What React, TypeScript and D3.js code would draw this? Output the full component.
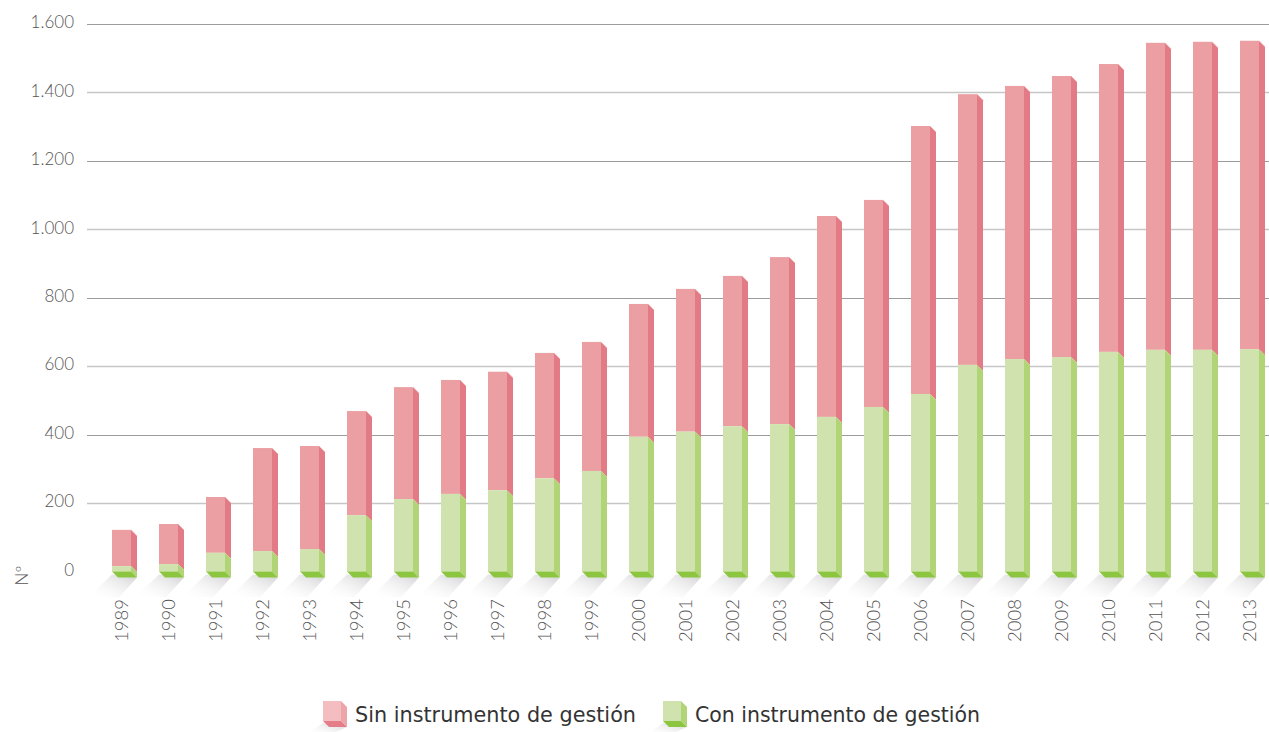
import React from "react";
import * as d3 from "d3";

const years = ["1989","1990","1991","1992","1993","1994","1995","1996","1997","1998","1999","2000","2001","2002","2003","2004","2005","2006","2007","2008","2009","2010","2011","2012","2013"];
const totals = [122,139,218,361,367,469,539,560,584,639,671,782,826,864,919,1039,1086,1302,1395,1419,1448,1483,1545,1548,1551];
const conInstrumento = [16,22,55,60,66,165,212,227,238,273,294,394,409,425,431,452,481,519,604,621,627,642,648,648,650];
const yTicks = [200,400,600,800,1000,1200,1400,1600];
const yLabels = [0,200,400,600,800,1000,1200,1400,1600];
const legendLabels = ["Sin instrumento de gestión","Con instrumento de gestión"];

const W = 1269, H = 732;
const BW = 19, D = 6;
const PINK = "#eb9fa2", PINK_SIDE = "#e37b86", PINK_EDGE = "#f3b8bb";
const GREEN = "#d0e3ae", GREEN_SIDE = "#b1d476", GREEN_BOTTOM = "#8cc540";

const fmt = (v: number) => v >= 1000 ? `${Math.floor(v / 1000)}.${String(v % 1000).padStart(3, "0")}` : String(v);

export default function App() {
  const y = d3.scaleLinear().domain([0, 1600]).range([571.6, 24]);
  const x = d3.scalePoint<string>().domain(years).range([121.5, 1249.5]);
  const base = y(0);
  const font = "Lato, 'Open Sans', sans-serif";
  return (
    <svg width={W} height={H} style={{ position: "absolute", left: 0, top: 0, background: "#fff" }}>
      <defs>
        <linearGradient id="shadow" x1="1" y1="0" x2="0" y2="1">
          <stop offset="0" stopColor="#c8c8cc" stopOpacity="0.85" />
          <stop offset="1" stopColor="#ffffff" stopOpacity="0" />
        </linearGradient>
      </defs>
      {yTicks.map((t, i) => (
        <line key={t} x1={87} x2={W} y1={Math.round(y(t)) + 0.5} y2={Math.round(y(t)) + 0.5}
          stroke={i % 2 === 1 ? "#9c9c9c" : "#c6c6c6"} strokeWidth={i % 2 === 1 ? 1 : 1.6} />
      ))}
      {yLabels.map(t => (
        <text key={t} x={74} y={y(t)} textAnchor="end" dominantBaseline="middle"
          fontFamily={font} fontWeight={300} fontSize={17} fill="#555">{fmt(t)}</text>
      ))}
      <text transform={`translate(28,${base + 4}) rotate(-90)`} textAnchor="middle"
        fontFamily={font} fontWeight={300} fontSize={17} fill="#555">Nº</text>
      {years.map((yr, i) => {
        const cx = x(yr) as number;
        const x0 = cx - BW / 2, x1 = cx + BW / 2;
        const yt = y(totals[i]);
        const yg = y(conInstrumento[i]);
        return (
          <g key={yr}>
            <polygon points={`${x0},${base + 3} ${x1 + D},${base + D} ${x1 - 12},${base + 26} ${x0 - 22},${base + 24}`} fill="url(#shadow)" />
            <rect x={x0} y={yt} width={BW} height={yg - yt} fill={PINK} />
            <polygon points={`${x1},${yt} ${x1 + D},${yt + D} ${x1 + D},${yg + D} ${x1},${yg}`} fill={PINK_SIDE} />
            <line x1={x1} y1={yt} x2={x1 + D} y2={yt + D} stroke={PINK_EDGE} strokeWidth={1} />
            <rect x={x0} y={yg} width={BW} height={base - yg} fill={GREEN} />
            <polygon points={`${x1},${yg} ${x1 + D},${yg + D} ${x1 + D},${base + D} ${x1},${base}`} fill={GREEN_SIDE} />
            <polygon points={`${x0},${base} ${x1},${base} ${x1 + D},${base + D} ${x0 + D},${base + D}`} fill={GREEN_BOTTOM} />
            <text transform={`translate(${cx + 6.5},599) rotate(-90)`} textAnchor="end"
              fontFamily={font} fontWeight={300} fontSize={18.5} fill="#555">{yr}</text>
          </g>
        );
      })}
      {legendLabels.map((lab, i) => {
        const lx = i === 0 ? 323 : 663;
        const front = i === 0 ? "#f4bdbf" : GREEN;
        const side = i === 0 ? "#eca6aa" : GREEN_SIDE;
        const bottom = i === 0 ? "#e57d88" : GREEN_BOTTOM;
        const top = 701, bot = 721;
        return (
          <g key={lab}>
            <polygon points={`${lx},${bot + 2} ${lx + 24},${bot + 6} ${lx + 6},${bot + 14} ${lx - 14},${bot + 12}`} fill="url(#shadow)" />
            <rect x={lx} y={top} width={18} height={bot - top} fill={front} />
            <polygon points={`${lx + 18},${top} ${lx + 24},${top + 6} ${lx + 24},${bot + 6} ${lx + 18},${bot}`} fill={side} />
            <polygon points={`${lx},${bot} ${lx + 18},${bot} ${lx + 24},${bot + 6} ${lx + 6},${bot + 6}`} fill={bottom} />
            <text x={lx + 32} y={716} dominantBaseline="middle" fontFamily="'DejaVu Sans Condensed', 'DejaVu Sans', sans-serif"
              fontSize={21} textLength={i === 0 ? 281 : 285} lengthAdjust="spacingAndGlyphs" fill="#333">{lab}</text>
          </g>
        );
      })}
    </svg>
  );
}
